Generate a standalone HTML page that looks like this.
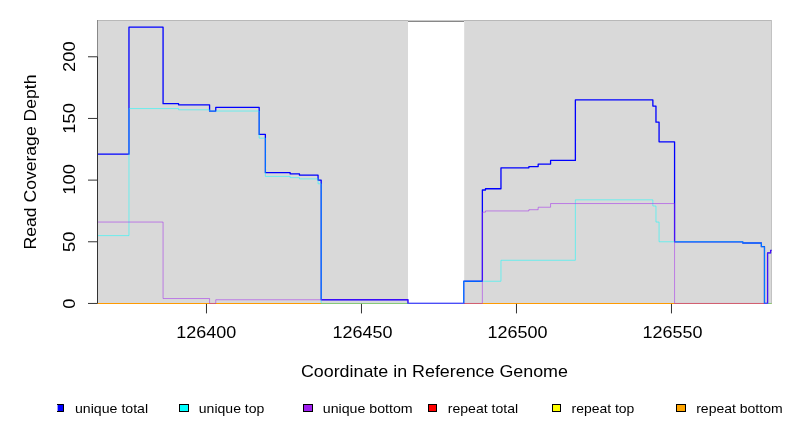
<!DOCTYPE html><html><head><meta charset="utf-8"><style>html,body{margin:0;padding:0;background:#fff;}svg{display:block;will-change:transform;}</style></head><body>
<svg width="792" height="432" viewBox="0 0 792 432">
<defs><clipPath id="pc"><rect x="97.4" y="0" width="674.2" height="432"/></clipPath></defs>
<rect x="97.5" y="20.4" width="310.5" height="283.1" fill="#d9d9d9"/>
<rect x="464.2" y="20.4" width="307.3" height="283.1" fill="#d9d9d9"/>
<rect x="97.5" y="20" width="310.5" height="1" fill="#b8b8b8"/>
<rect x="464" y="20" width="307.5" height="1" fill="#b8b8b8"/>
<rect x="771" y="20" width="1" height="284" fill="#c2c2c2"/>
<rect x="97" y="20" width="1" height="37" fill="#888888"/>
<rect x="408" y="20" width="56" height="1" fill="#cacaca"/>
<rect x="408" y="21" width="56" height="1" fill="#888888"/>
<g clip-path="url(#pc)" fill="none" stroke-linejoin="round" stroke-linecap="round">
<path d="M-103.53 303.45H826.47" stroke="#ff9a00" stroke-width="1.1"/>
<path d="M-103.53 154.21H128.97V27.17H163.07V103.64H178.57V104.87H209.57V111.04H215.77V107.34H259.17V134.47H265.37V172.71H290.17V173.94H299.47V175.18H318.07V180.11H321.17V299.75H407.97V303.45H463.77V281.25H482.37V189.98H485.47V188.74H500.97V167.78H528.87V166.54H538.17V164.08H550.57V160.38H575.37V99.94H652.87V106.11H655.97V122.14H659.07V141.87H674.57V241.78H742.77V243.01H761.37V246.71H764.47V303.45H767.57V252.88H770.67V250.41H826.47" stroke="#0000ff" stroke-width="1.3"/>
<path d="M-103.53 235.61H128.97V108.57H178.57V109.81H209.57V111.04H259.17V138.17H265.37V176.41H290.17V177.64H299.47V178.88H318.07V183.81H321.17V303.45H463.77V281.25H500.97V260.28H575.37V199.84H652.87V206.01H655.97V222.05H659.07V241.78H742.77V243.01H761.37V246.71H764.47V303.45H826.47" stroke="#00ffff" stroke-opacity="0.5" stroke-width="1"/>
<path d="M-103.53 222.05H163.07V298.52H209.57V303.45H215.77V299.75H407.97V303.45H482.37V212.18H485.47V210.94H528.87V209.71H538.17V207.24H550.57V203.54H674.57V303.45H767.57V252.88H770.67V250.41H826.47" stroke="#a020f0" stroke-opacity="0.5" stroke-width="1"/>
</g>
<path d="M97.5 303.45V56.77" stroke="#333" stroke-width="1" fill="none"/>
<path d="M88 303.45H97.5" stroke="#333" stroke-width="1" fill="none"/>
<path d="M88 241.78H97.5" stroke="#333" stroke-width="1" fill="none"/>
<path d="M88 180.11H97.5" stroke="#333" stroke-width="1" fill="none"/>
<path d="M88 118.44H97.5" stroke="#333" stroke-width="1" fill="none"/>
<path d="M88 56.77H97.5" stroke="#333" stroke-width="1" fill="none"/>
<path d="M206.47 303.9V313.4" stroke="#333" stroke-width="1" fill="none"/>
<path d="M361.47 303.9V313.4" stroke="#333" stroke-width="1" fill="none"/>
<path d="M516.47 303.9V313.4" stroke="#333" stroke-width="1" fill="none"/>
<path d="M671.47 303.9V313.4" stroke="#333" stroke-width="1" fill="none"/>
<text x="206.2" y="337.9" font-family='"Liberation Sans", sans-serif' font-size="17" text-anchor="middle" textLength="60" lengthAdjust="spacingAndGlyphs">126400</text>
<text x="362.5" y="337.9" font-family='"Liberation Sans", sans-serif' font-size="17" text-anchor="middle" textLength="60" lengthAdjust="spacingAndGlyphs">126450</text>
<text x="517.5" y="337.9" font-family='"Liberation Sans", sans-serif' font-size="17" text-anchor="middle" textLength="60" lengthAdjust="spacingAndGlyphs">126500</text>
<text x="672.5" y="337.9" font-family='"Liberation Sans", sans-serif' font-size="17" text-anchor="middle" textLength="60" lengthAdjust="spacingAndGlyphs">126550</text>
<text transform="translate(75.1 303.75) rotate(-90)" x="0" y="0" font-family='"Liberation Sans", sans-serif' font-size="17" text-anchor="middle" textLength="10.2" lengthAdjust="spacingAndGlyphs">0</text>
<text transform="translate(75.1 241.7) rotate(-90)" x="0" y="0" font-family='"Liberation Sans", sans-serif' font-size="17" text-anchor="middle" textLength="20.4" lengthAdjust="spacingAndGlyphs">50</text>
<text transform="translate(75.1 179.4) rotate(-90)" x="0" y="0" font-family='"Liberation Sans", sans-serif' font-size="17" text-anchor="middle" textLength="30.6" lengthAdjust="spacingAndGlyphs">100</text>
<text transform="translate(75.1 118.4) rotate(-90)" x="0" y="0" font-family='"Liberation Sans", sans-serif' font-size="17" text-anchor="middle" textLength="30.6" lengthAdjust="spacingAndGlyphs">150</text>
<text transform="translate(75.1 56.6) rotate(-90)" x="0" y="0" font-family='"Liberation Sans", sans-serif' font-size="17" text-anchor="middle" textLength="30.6" lengthAdjust="spacingAndGlyphs">200</text>
<text x="434.4" y="376.8" font-family='"Liberation Sans", sans-serif' font-size="17" text-anchor="middle" textLength="267" lengthAdjust="spacingAndGlyphs">Coordinate in Reference Genome</text>
<text transform="translate(36.1 162) rotate(-90)" x="0" y="0" font-family='"Liberation Sans", sans-serif' font-size="17" text-anchor="middle" textLength="175" lengthAdjust="spacingAndGlyphs">Read Coverage Depth</text>
<rect x="57" y="404" width="7" height="8" fill="#0000ff"/>
<rect x="57" y="405" width="1" height="6" fill="#9a9aff"/>
<path d="M57 404.5H63.5V411.5H57" stroke="#000" stroke-width="1" fill="none"/>
<text x="75.00" y="412.8" font-family='"Liberation Sans", sans-serif' font-size="13.5" textLength="73.10" lengthAdjust="spacingAndGlyphs">unique total</text>
<rect x="179.5" y="404.5" width="9.0" height="7" fill="#00ffff" stroke="#000" stroke-width="1"/>
<text x="198.80" y="412.8" font-family='"Liberation Sans", sans-serif' font-size="13.5" textLength="65.55" lengthAdjust="spacingAndGlyphs">unique top</text>
<rect x="303.5" y="404.5" width="9.0" height="7" fill="#a020f0" stroke="#000" stroke-width="1"/>
<text x="322.80" y="412.8" font-family='"Liberation Sans", sans-serif' font-size="13.5" textLength="89.80" lengthAdjust="spacingAndGlyphs">unique bottom</text>
<rect x="428.5" y="404.5" width="8.0" height="7" fill="#ff0000" stroke="#000" stroke-width="1"/>
<text x="447.80" y="412.8" font-family='"Liberation Sans", sans-serif' font-size="13.5" textLength="70.30" lengthAdjust="spacingAndGlyphs">repeat total</text>
<rect x="552.5" y="404.5" width="8.0" height="7" fill="#ffff00" stroke="#000" stroke-width="1"/>
<text x="571.60" y="412.8" font-family='"Liberation Sans", sans-serif' font-size="13.5" textLength="62.75" lengthAdjust="spacingAndGlyphs">repeat top</text>
<rect x="676.5" y="404.5" width="9.0" height="7" fill="#ffa500" stroke="#000" stroke-width="1"/>
<text x="696.20" y="412.8" font-family='"Liberation Sans", sans-serif' font-size="13.5" textLength="86.40" lengthAdjust="spacingAndGlyphs">repeat bottom</text>
</svg></body></html>
